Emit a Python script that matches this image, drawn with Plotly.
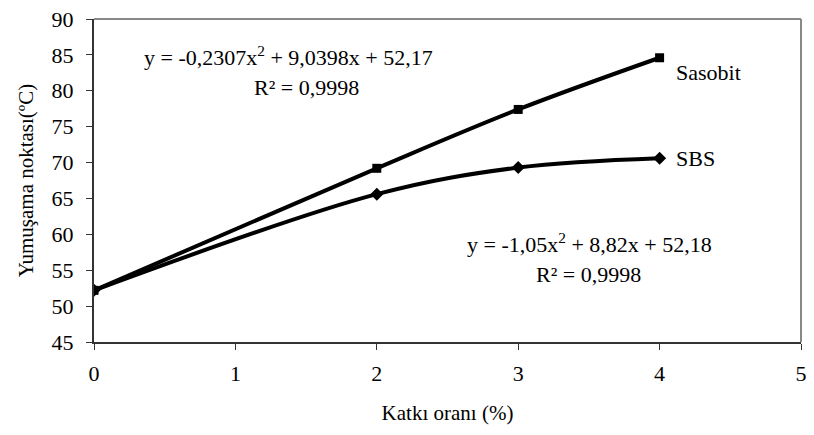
import plotly.graph_objects as go

x_vals = [0, 2, 3, 4]
sasobit = [52.2, 69.2, 77.4, 84.6]
sbs = [52.2, 65.6, 69.3, 70.6]

FONT = "Liberation Serif, Times New Roman, serif"

fig = go.Figure()
fig.add_trace(go.Scatter(x=x_vals, y=sasobit, mode="lines+markers", name="Sasobit",
                         line=dict(color="black", width=4, shape="spline"),
                         marker=dict(symbol="square", size=9, color="black")))
fig.add_trace(go.Scatter(x=x_vals, y=sbs, mode="lines+markers", name="SBS",
                         line=dict(color="black", width=4, shape="spline"),
                         marker=dict(symbol="diamond", size=10, color="black")))

anns = [
    dict(x=4.1, y=sasobit[-1], text="Sasobit", xanchor="left", yanchor="middle", yshift=-15),
    dict(x=4.1, y=sbs[-1], text="SBS", xanchor="left", yanchor="middle"),
    dict(x=1.374, y=84.9, text="y = -0,2307x<sup>2</sup> + 9,0398x + 52,17", xanchor="center", yanchor="middle"),
    dict(x=1.50, y=80.5, text="R² = 0,9998", xanchor="center", yanchor="middle"),
    dict(x=3.506, y=58.8, text="y = -1,05x<sup>2</sup> + 8,82x + 52,18", xanchor="center", yanchor="middle"),
    dict(x=3.50, y=54.4, text="R² = 0,9998", xanchor="center", yanchor="middle"),
]
for a in anns:
    a.update(showarrow=False, font=dict(family=FONT, size=22, color="black"))
    fig.add_annotation(**a)

fig.update_layout(
    width=814, height=435,
    margin=dict(l=94, r=7, t=16, b=93),
    paper_bgcolor="white", plot_bgcolor="white",
    showlegend=False,
    font=dict(family=FONT, size=22, color="black"),
    xaxis=dict(range=[0, 5], dtick=1, showgrid=False, zeroline=False,
               showline=True, linecolor="#333", linewidth=2, mirror=False,
               ticks="outside", ticklen=6, tickcolor="#333", ticklabelstandoff=5,
               tickfont=dict(family=FONT, size=22),
               title=dict(text="Katkı oranı (%)", standoff=20, font=dict(family=FONT, size=21))),
    yaxis=dict(range=[45, 90], dtick=5, showgrid=False, zeroline=False,
               showline=True, linecolor="#333", linewidth=2,
               ticks="outside", ticklen=6, tickcolor="#333", ticklabelstandoff=8,
               tickfont=dict(family=FONT, size=22),
               title=dict(text="Yumuşama noktası(ºC)", standoff=12, font=dict(family=FONT, size=21))),
)
fig.add_shape(type="line", xref="paper", yref="paper", x0=0, x1=1, y0=1, y1=1,
              line=dict(color="#888", width=2))
fig.add_shape(type="line", xref="paper", yref="paper", x0=1, x1=1, y0=0, y1=1,
              line=dict(color="#888", width=2))

fig.write_html("out.html")
